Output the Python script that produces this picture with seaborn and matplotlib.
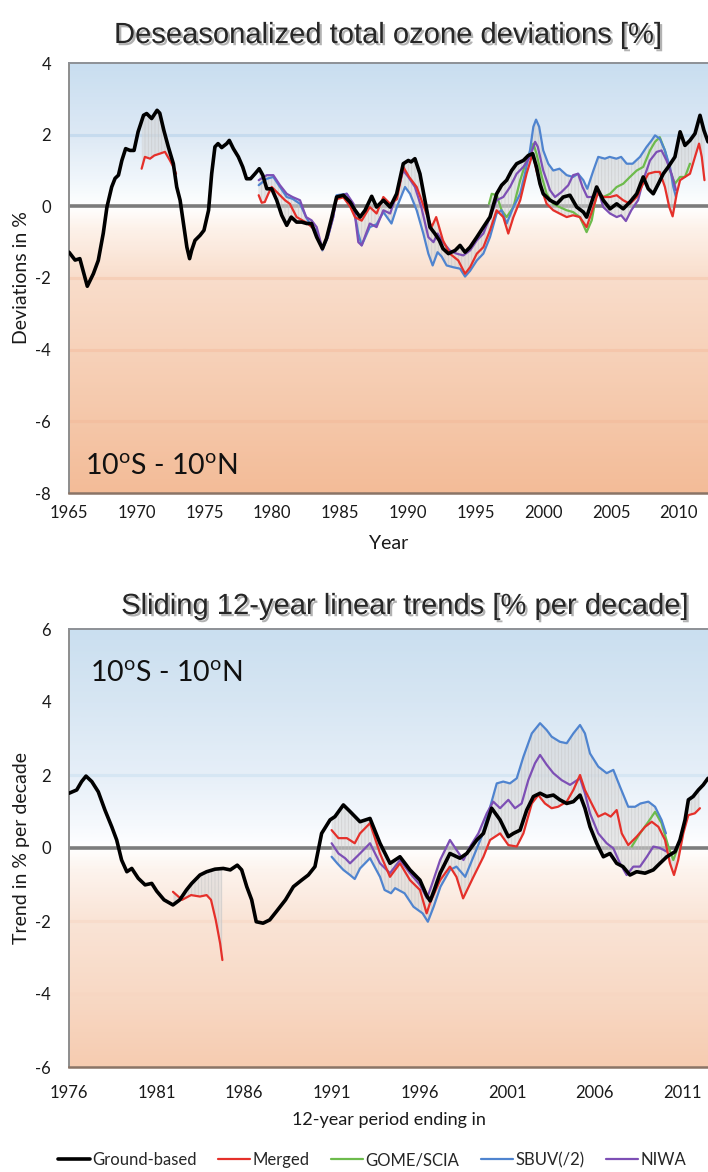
import numpy as np
import pandas as pd
import matplotlib
matplotlib.use("Agg")
import matplotlib.pyplot as plt
import seaborn as sns
from matplotlib.colors import LinearSegmentedColormap
from matplotlib.lines import Line2D
import matplotlib.patheffects as pe

# ---------------- DATA ----------------
series_names = ["Ground-based", "Merged", "GOME/SCIA", "SBUV(/2)", "NIWA"]
series_colors = ["#000000", "#e5302a", "#6dbb4c", "#4f84cf", "#7d4fb5"]

# Top panel: deseasonalized total ozone deviations [%]
gb_top_x = [1965.0, 1965.45, 1965.8, 1966.35, 1966.8, 1967.16, 1967.53, 1967.8, 1968.15, 1968.4, 1968.65, 1968.9,
            1969.18, 1969.5, 1969.8, 1970.1, 1970.5, 1970.73, 1971.1, 1971.5, 1971.7, 1972.0, 1972.33, 1972.7,
            1972.95, 1973.2, 1973.45, 1973.7, 1973.9, 1974.05, 1974.3, 1974.67, 1974.96, 1975.3, 1975.53, 1975.77,
            1976.0, 1976.27, 1976.64, 1976.83, 1977.13, 1977.5, 1977.82, 1978.1, 1978.4, 1978.73, 1979.04, 1979.3,
            1979.6, 1979.96, 1980.33, 1980.7, 1981.07, 1981.4, 1981.8, 1982.17, 1982.55, 1982.9, 1983.28, 1983.7,
            1984.0, 1984.4, 1984.75, 1985.25, 1985.74, 1986.1, 1986.48, 1986.85, 1987.34, 1987.7, 1988.2, 1988.7,
            1989.18, 1989.67, 1990.04, 1990.25, 1990.53, 1990.9, 1991.27, 1991.64, 1992.0, 1992.33, 1992.6, 1993.0,
            1993.5, 1993.86, 1994.23, 1994.6, 1995.1, 1995.58, 1996.07, 1996.56, 1996.93, 1997.3, 1997.67, 1998.04,
            1998.53, 1998.9, 1999.22, 1999.5, 1999.76, 2000.0, 2000.5, 2001.0, 2001.48, 2001.97, 2002.47, 2002.96,
            2003.2, 2003.45, 2003.94, 2004.43, 2004.93, 2005.42, 2005.9, 2006.4, 2006.9, 2007.38, 2007.75, 2008.12,
            2008.5, 2008.86, 2009.23, 2009.72, 2010.1, 2010.46, 2010.83, 2011.2, 2011.57, 2011.86, 2012.16]
gb_top_y = [-1.28, -1.5, -1.46, -2.23, -1.88, -1.51, -0.75, -0.02, 0.54, 0.78, 0.87, 1.28,
            1.61, 1.56, 1.56, 2.08, 2.54, 2.59, 2.45, 2.68, 2.6, 2.12, 1.66, 1.19,
            0.54, 0.17, -0.48, -1.14, -1.46, -1.23, -0.95, -0.81, -0.67, -0.11, 0.91, 1.66,
            1.75, 1.64, 1.75, 1.84, 1.61, 1.38, 1.1, 0.77, 0.77, 0.91, 1.05, 0.87,
            0.49, 0.49, 0.17, -0.25, -0.53, -0.3, -0.44, -0.44, -0.48, -0.48, -0.86, -1.18,
            -0.9, -0.3, 0.26, 0.31, 0.12, -0.1, -0.3, -0.11, 0.28, -0.02, 0.17, -0.02,
            0.35, 1.19, 1.28, 1.24, 1.33, 0.91, 0.17, -0.58, -0.76, -0.95, -1.18, -1.32,
            -1.23, -1.09, -1.28, -1.14, -0.86, -0.58, -0.3, 0.35, 0.59, 0.73, 1.0, 1.19,
            1.28, 1.42, 1.47, 1.1, 0.63, 0.35, 0.17, 0.07, 0.26, 0.31, -0.02, -0.16,
            -0.3, -0.02, 0.54, 0.17, -0.07, 0.07, -0.07, 0.12, 0.35, 0.82, 0.49, 0.35,
            0.63, 0.91, 1.1, 1.38, 2.08, 1.7, 1.84, 2.03, 2.54, 2.12, 1.8]

mg_top_early_x = [1970.36, 1970.6, 1970.98, 1971.3, 1971.7, 1972.08, 1972.45, 1972.7, 1972.9]
mg_top_early_y = [1.05, 1.38, 1.33, 1.42, 1.47, 1.52, 1.28, 1.1, 0.91]

mg_top_x = [1979.0, 1979.22, 1979.45, 1979.71, 1979.96, 1980.2, 1980.57, 1980.94, 1981.3, 1981.8, 1982.5, 1983.0,
            1983.7, 1984.0, 1984.4, 1984.75, 1985.25, 1985.74, 1986.1, 1986.6, 1987.2, 1987.7, 1988.2, 1988.7,
            1989.2, 1989.67, 1990.1, 1990.66, 1991.2, 1991.76, 1992.1, 1992.6, 1993.1, 1993.73, 1994.23, 1994.6,
            1995.1, 1995.58, 1996.07, 1996.56, 1997.05, 1997.42, 1997.8, 1998.3, 1998.77, 1999.22, 1999.5, 1999.9,
            2000.25, 2000.74, 2001.2, 2001.73, 2002.2, 2002.7, 2003.2, 2003.7, 2004.06, 2004.43, 2004.93, 2005.42,
            2005.9, 2006.4, 2006.9, 2007.25, 2007.75, 2008.25, 2008.6, 2008.98, 2009.3, 2009.55, 2009.85, 2010.1,
            2010.46, 2010.83, 2011.2, 2011.5, 2011.7, 2011.9]
mg_top_y = [0.31, 0.1, 0.12, 0.35, 0.54, 0.45, 0.31, 0.17, 0.07, -0.3, -0.45, -0.6,
            -1.2, -0.9, -0.35, 0.2, 0.25, 0.0, -0.3, -0.4, -0.02, -0.2, 0.26, 0.07,
            0.2, 1.1, 0.82, 0.54, -0.02, -0.58, -0.3, -0.95, -1.32, -1.51, -1.88, -1.7,
            -1.32, -1.14, -0.67, -0.11, -0.3, -0.76, -0.3, 0.17, 0.91, 1.47, 1.0, 0.45,
            0.07, -0.11, -0.2, -0.3, -0.25, -0.3, -0.58, -0.02, 0.4, 0.26, 0.26, 0.31,
            0.17, 0.07, 0.26, 0.54, 0.91, 0.96, 0.96, 0.54, -0.02, -0.28, 0.35, 0.73,
            0.82, 0.91, 1.38, 1.75, 1.38, 0.73]

sb_top_x = [1979.0, 1979.6, 1980.08, 1980.57, 1981.07, 1981.5, 1982.05, 1982.5, 1982.9, 1983.28, 1983.7, 1984.1,
            1984.5, 1984.75, 1985.5, 1986.0, 1986.35, 1986.6, 1987.2, 1987.7, 1988.2, 1988.8, 1989.2, 1989.8,
            1990.17, 1990.66, 1991.15, 1991.52, 1991.84, 1992.2, 1992.5, 1992.87, 1993.36, 1993.86, 1994.23, 1994.6,
            1995.1, 1995.58, 1996.07, 1996.56, 1996.93, 1997.3, 1997.8, 1998.3, 1998.65, 1999.02, 1999.27, 1999.47,
            1999.7, 2000.0, 2000.37, 2000.74, 2001.2, 2001.73, 2002.2, 2002.57, 2002.96, 2003.25, 2003.7, 2004.06,
            2004.55, 2004.9, 2005.4, 2005.75, 2006.16, 2006.6, 2007.14, 2007.63, 2008.0, 2008.25, 2008.6, 2008.98,
            2009.35, 2009.6, 2009.8]
sb_top_y = [0.59, 0.77, 0.82, 0.54, 0.26, 0.21, 0.07, -0.3, -0.58, -0.67, -1.23, -0.86,
            -0.3, 0.31, 0.35, -0.02, -0.76, -1.09, -0.58, -0.5, -0.16, -0.48, -0.02, 0.54,
            0.35, -0.11, -0.76, -1.32, -1.65, -1.28, -1.4, -1.65, -1.7, -1.74, -1.96, -1.8,
            -1.51, -1.32, -0.86, -0.2, -0.11, -0.48, -0.02, 0.35, 0.91, 1.56, 2.22, 2.42,
            2.22, 1.56, 1.19, 1.0, 1.05, 0.87, 0.82, 0.91, 0.73, 0.49, 1.0, 1.38,
            1.33, 1.38, 1.33, 1.38, 1.19, 1.19, 1.38, 1.66, 1.84, 1.98, 1.89, 1.56,
            1.1, 0.54, 0.26]

nw_top_x = [1979.0, 1979.6, 1980.08, 1980.57, 1981.07, 1981.5, 1982.05, 1982.5, 1982.9, 1983.28, 1983.7, 1984.1,
            1984.5, 1984.75, 1985.5, 1986.0, 1986.35, 1986.6, 1987.2, 1987.7, 1988.2, 1988.7, 1989.2, 1989.67,
            1990.04, 1990.53, 1991.0, 1991.52, 1991.9, 1992.2, 1992.6, 1993.1, 1993.6, 1994.1, 1994.6, 1995.1,
            1995.58, 1996.07, 1996.56, 1997.05, 1997.55, 1998.04, 1998.53, 1999.02, 1999.4, 1999.6, 2000.0, 2000.5,
            2000.87, 2001.35, 2001.85, 2002.2, 2002.57, 2002.9, 2003.25, 2003.7, 2004.06, 2004.43, 2004.93, 2005.42,
            2005.75, 2006.1, 2006.5, 2007.0, 2007.38, 2007.88, 2008.37, 2008.73, 2009.1, 2009.47, 2009.8]
nw_top_y = [0.73, 0.87, 0.87, 0.59, 0.35, 0.26, 0.17, -0.3, -0.39, -0.58, -1.18, -0.86,
            -0.3, 0.26, 0.35, 0.07, -1.0, -1.09, -0.48, -0.58, -0.11, -0.2, 0.35, 1.0,
            0.82, 0.54, -0.02, -0.86, -1.0, -0.76, -1.0, -1.23, -1.32, -1.37, -1.23, -0.95,
            -0.76, -0.3, 0.17, 0.26, 0.54, 0.91, 1.1, 1.38, 1.8, 1.66, 1.0, 0.45,
            0.26, 0.4, 0.59, 0.87, 0.91, 0.54, 0.26, 0.26, 0.45, -0.02, -0.2, -0.3,
            -0.25, -0.41, -0.11, 0.17, 0.73, 1.28, 1.52, 1.56, 1.28, 0.91, 0.45]

gs_top_x = [1996.0, 1996.2, 1996.56, 1996.93, 1997.3, 1997.8, 1998.3, 1998.77, 1999.27, 1999.5, 1999.9, 2000.25,
            2000.74, 2001.2, 2001.73, 2002.2, 2002.7, 2003.2, 2003.58, 2003.94, 2004.43, 2004.93, 2005.42, 2005.9,
            2006.4, 2006.9, 2007.38, 2007.88, 2008.25, 2008.6, 2008.98, 2009.35, 2009.72, 2010.1, 2010.46, 2010.83]
gs_top_y = [0.07, 0.35, 0.31, -0.11, -0.3, -0.02, 0.73, 1.28, 1.75, 1.47, 0.82, 0.35,
            0.07, -0.02, -0.11, -0.16, -0.3, -0.72, -0.39, 0.35, 0.26, 0.35, 0.54, 0.63,
            0.82, 1.0, 1.1, 1.56, 1.8, 1.93, 1.56, 1.0, 0.63, 0.82, 0.82, 1.19]

# Bottom panel: sliding 12-year linear trends [% per decade]
gb_bot_x = [1976.0, 1976.44, 1976.72, 1976.97, 1977.3, 1977.67, 1978.05, 1978.44, 1978.72, 1979.0, 1979.3, 1979.58,
            1979.95, 1980.34, 1980.72, 1981.0, 1981.42, 1981.93, 1982.32, 1982.7, 1983.0, 1983.47, 1983.85, 1984.33,
            1984.8, 1985.2, 1985.6, 1985.85, 1986.14, 1986.42, 1986.68, 1987.07, 1987.45, 1987.83, 1988.35, 1988.8,
            1989.27, 1989.65, 1990.03, 1990.41, 1990.89, 1991.17, 1991.65, 1992.03, 1992.6, 1993.17, 1993.74, 1994.31,
            1994.88, 1995.45, 1996.02, 1996.4, 1996.6, 1996.8, 1997.17, 1997.73, 1998.3, 1998.69, 1999.26, 1999.64,
            2000.11, 2000.59, 2001.06, 2001.35, 2001.73, 2002.11, 2002.49, 2002.87, 2003.25, 2003.63, 2004.0, 2004.39,
            2004.77, 2005.15, 2005.43, 2005.72, 2006.1, 2006.48, 2006.86, 2007.24, 2007.6, 2008.0, 2008.38, 2008.86,
            2009.33, 2009.71, 2010.1, 2010.57, 2010.85, 2011.14, 2011.33, 2011.6, 2011.9, 2012.18, 2012.45]
gb_bot_y = [1.5, 1.59, 1.82, 1.97, 1.82, 1.54, 1.04, 0.58, 0.22, -0.33, -0.65, -0.56,
            -0.83, -1.01, -0.97, -1.18, -1.42, -1.56, -1.42, -1.15, -0.97, -0.74, -0.65, -0.58,
            -0.56, -0.6, -0.47, -0.6, -1.06, -1.42, -2.02, -2.06, -1.97, -1.74, -1.42, -1.06,
            -0.88, -0.74, -0.51, 0.4, 0.77, 0.86, 1.18, 1.0, 0.72, 0.81, 0.13, -0.42,
            -0.24, -0.6, -0.88, -1.3, -1.45, -1.2, -0.69, -0.15, -0.28, -0.15, 0.22, 0.4,
            1.09, 0.77, 0.31, 0.4, 0.49, 1.04, 1.41, 1.5, 1.41, 1.45, 1.32, 1.22,
            1.27, 1.45, 1.09, 0.58, 0.13, -0.24, -0.15, -0.42, -0.51, -0.74, -0.65, -0.69,
            -0.6, -0.42, -0.24, -0.1, 0.22, 0.77, 1.32, 1.41, 1.59, 1.73, 1.91]

mg_bot_early_x = [1981.93, 1982.45, 1982.96, 1983.47, 1983.85, 1984.1, 1984.37, 1984.62, 1984.75]
mg_bot_early_y = [-1.2, -1.42, -1.29, -1.33, -1.29, -1.42, -1.97, -2.61, -3.07]

mg_bot_x = [1990.98, 1991.37, 1991.85, 1992.3, 1992.6, 1993.17, 1993.74, 1994.31, 1994.88, 1995.45, 1996.02, 1996.4,
            1996.6, 1997.17, 1997.73, 1998.1, 1998.48, 1999.07, 1999.64, 2000.02, 2000.59, 2001.06, 2001.54, 2001.92,
            2002.4, 2002.77, 2003.15, 2003.53, 2003.9, 2004.39, 2004.77, 2005.15, 2005.43, 2005.81, 2006.19, 2006.58,
            2006.9, 2007.24, 2007.53, 2007.9, 2008.38, 2008.86, 2009.24, 2009.62, 2010.0, 2010.28, 2010.51, 2010.75,
            2011.04, 2011.33, 2011.7, 2011.99]
mg_bot_y = [0.49, 0.27, 0.27, 0.13, 0.4, 0.68, -0.15, -0.79, -0.42, -0.88, -1.15, -1.79,
            -1.5, -0.88, -0.51, -0.79, -1.38, -0.79, -0.24, 0.22, 0.4, 0.08, 0.04, 0.4,
            1.22, 1.45, 1.22, 1.09, 1.13, 1.27, 1.59, 2.0, 1.59, 1.22, 0.86, 0.95,
            0.86, 1.04, 0.4, 0.08, 0.31, 0.58, 0.72, 0.58, 0.22, -0.42, -0.74, -0.33,
            0.4, 0.9, 0.95, 1.09]

sb_bot_x = [1990.98, 1991.3, 1991.65, 1992.03, 1992.3, 1992.6, 1993.17, 1993.74, 1994.0, 1994.37, 1994.6, 1995.14,
            1995.65, 1996.17, 1996.47, 1996.8, 1997.19, 1997.73, 1998.1, 1998.6, 1999.07, 1999.54, 1999.92, 2000.4,
            2000.77, 2001.15, 2001.54, 2001.92, 2002.4, 2002.87, 2003.25, 2003.53, 2004.0, 2004.39, 2004.77, 2005.15,
            2005.43, 2005.72, 2006.19, 2006.67, 2007.05, 2007.43, 2007.9, 2008.29, 2008.6, 2009.05, 2009.43, 2009.8,
            2010.05]
sb_bot_y = [-0.24, -0.42, -0.6, -0.74, -0.85, -0.56, -0.28, -0.79, -1.15, -1.24, -1.1, -1.24,
            -1.61, -1.79, -2.02, -1.61, -1.06, -0.6, -0.51, -0.79, -0.24, 0.31, 0.95, 1.77,
            1.82, 1.77, 1.91, 2.5, 3.14, 3.42, 3.23, 3.05, 2.91, 2.87, 3.14, 3.37,
            3.14, 2.59, 2.23, 2.05, 2.14, 1.68, 1.13, 1.13, 1.22, 1.27, 1.13, 0.77,
            0.4]

nw_bot_x = [1990.98, 1991.37, 1991.75, 1992.03, 1992.6, 1993.17, 1993.74, 1994.31, 1994.88, 1995.45, 1996.02, 1996.42,
            1996.7, 1997.17, 1997.73, 1998.1, 1998.5, 1998.88, 1999.35, 1999.83, 2000.2, 2000.59, 2001.06, 2001.44,
            2001.82, 2002.2, 2002.58, 2002.87, 2003.25, 2003.63, 2004.1, 2004.58, 2005.15, 2005.43, 2005.72, 2006.19,
            2006.67, 2007.05, 2007.43, 2007.81, 2008.19, 2008.57, 2008.96, 2009.33, 2009.71, 2010.1]
nw_bot_y = [0.13, -0.15, -0.28, -0.42, -0.15, 0.13, -0.42, -0.69, -0.33, -0.69, -1.01, -1.38,
            -1.0, -0.33, 0.22, -0.05, -0.33, 0.04, 0.4, 0.95, 1.27, 1.09, 1.32, 1.09,
            1.22, 1.86, 2.32, 2.55, 2.28, 2.05, 1.86, 1.73, 1.91, 1.5, 0.95, 0.4,
            0.13, -0.01, -0.42, -0.74, -0.51, -0.51, -0.24, 0.04, 0.0, -0.1]

gs_bot_x = [2008.1, 2008.57, 2009.05, 2009.43, 2009.8, 2010.19, 2010.47, 2010.75, 2011.04]
gs_bot_y = [0.04, 0.4, 0.72, 0.99, 0.68, 0.04, -0.33, 0.04, 0.58]

top_yticks = [4, 2, 0, -2, -4, -6, -8]
top_xticks = [1965, 1970, 1975, 1980, 1985, 1990, 1995, 2000, 2005, 2010]
bot_yticks = [6, 4, 2, 0, -2, -4, -6]
bot_xticks = [1976, 1981, 1986, 1991, 1996, 2001, 2006, 2011]

top_title = "Deseasonalized total ozone deviations [%]"
bot_title = "Sliding 12-year linear trends [% per decade]"
region_label = "10$^{\\mathrm{o}}$S - 10$^{\\mathrm{o}}$N"

# ---------------- STYLE ----------------
sns.set_style("white")
plt.rcParams["font.family"] = ["Lato", "DejaVu Sans"]
plt.rcParams["mathtext.fontset"] = "custom"
plt.rcParams["mathtext.rm"] = "Lato"
plt.rcParams["mathtext.it"] = "Lato:italic"
plt.rcParams["mathtext.bf"] = "Lato:bold"
plt.rcParams["hatch.linewidth"] = 0.6
plt.rcParams["hatch.color"] = "#c4c4c4"

W, H = 708, 1172
fig = plt.figure(figsize=(W / 100, H / 100), dpi=100)


def px_axes(left, top, right, bottom):
    return [left / W, 1 - bottom / H, (right - left) / W, (bottom - top) / H]


def background(ax, xlim, ylim, stops):
    vals = np.linspace(ylim[1], ylim[0], 400)
    pos = [(s - ylim[0]) / (ylim[1] - ylim[0]) for s, _ in stops]
    cmap = LinearSegmentedColormap.from_list("bg", list(zip(pos, [c for _, c in stops])))
    img = (vals[:, None] - ylim[0]) / (ylim[1] - ylim[0])
    ax.imshow(img, extent=[xlim[0], xlim[1], ylim[0], ylim[1]], aspect="auto",
              cmap=cmap, vmin=0, vmax=1, zorder=0, interpolation="bilinear")


def envelope(ax, sets, color="#d6d6d6"):
    lo = min(min(x) for x, _ in sets)
    hi = max(max(x) for x, _ in sets)
    grid = np.arange(lo, hi + 0.01, 0.02)
    stack = []
    for x, y in sets:
        x = np.asarray(x); y = np.asarray(y)
        v = np.interp(grid, x, y)
        v[(grid < x.min()) | (grid > x.max())] = np.nan
        stack.append(v)
    stack = np.vstack(stack)
    cnt = np.sum(~np.isnan(stack), axis=0)
    mn = np.min(np.where(np.isnan(stack), np.inf, stack), axis=0)
    mx = np.max(np.where(np.isnan(stack), -np.inf, stack), axis=0)
    ok = cnt >= 2
    mn = np.where(ok, mn, np.nan)
    mx = np.where(ok, mx, np.nan)
    ax.fill_between(grid, mn, mx, where=ok, facecolor=color, alpha=0.55, lw=0,
                    hatch="|||||", edgecolor="#c2c2c2", zorder=2)


def draw_lines(ax, groups):
    for (x, y), col, lw, z in groups:
        df = pd.DataFrame({"x": x, "y": y})
        sns.lineplot(data=df, x="x", y="y", ax=ax, color=col, lw=lw, estimator=None,
                     sort=False, zorder=z, solid_joinstyle="round", solid_capstyle="round")


def style_axes(ax, xlim, ylim, xticks, yticks, xpad, grid_vals, grid_cols):
    for gv, gc in zip(grid_vals, grid_cols):
        ax.axhline(gv, color=gc, lw=2.2, zorder=1)
    ax.axhline(0, color="#7c7c7c", lw=2.6, zorder=1.5)
    ax.set_xticks(xticks)
    ax.set_xticklabels([str(v) for v in xticks])
    ax.set_yticks(yticks)
    ax.set_yticklabels([str(v) for v in yticks])
    ax.set_xlim(*xlim)
    ax.set_ylim(*ylim)
    ax.tick_params(axis="x", direction="in", length=5, width=1.2, color="#6e6e6e",
                   labelsize=12, pad=xpad, labelcolor="#1a1a1a")
    ax.tick_params(axis="y", length=0, labelsize=12, pad=13, labelcolor="#1a1a1a")
    ax.spines["right"].set_visible(False)
    ax.spines["top"].set_color("#8d9096")
    ax.spines["top"].set_linewidth(1.4)
    ax.spines["left"].set_color("#8d8d8d")
    ax.spines["left"].set_linewidth(1.4)
    ax.spines["bottom"].set_color("#8a7466")
    ax.spines["bottom"].set_linewidth(1.8)
    ax.grid(False)


shadow = [pe.SimplePatchShadow(offset=(1.6, -1.6), shadow_rgbFace="#555555", alpha=0.45), pe.Normal()]

# ---------- top panel ----------
ax1 = fig.add_axes(px_axes(69, 63, 708, 493))
xl1, yl1 = (1965, 2012.16), (-8, 4)
background(ax1, xl1, yl1, [(-8, "#f3bc98"), (-6, "#f5c7a9"), (-4, "#f7d2ba"), (-2, "#f9ddcb"),
                           (-0.6, "#fdf2ea"), (0, "#ffffff"), (0.6, "#f3f8fc"), (2, "#dde9f5"),
                           (4, "#c9def0")])
envelope(ax1, [(gb_top_x, gb_top_y), (mg_top_early_x, mg_top_early_y)])
envelope(ax1, [(gb_top_x[46:], gb_top_y[46:]), (mg_top_x, mg_top_y), (sb_top_x, sb_top_y),
               (nw_top_x, nw_top_y), (gs_top_x, gs_top_y)])
draw_lines(ax1, [((gs_top_x, gs_top_y), series_colors[2], 1.6, 3),
                 ((sb_top_x, sb_top_y), series_colors[3], 1.6, 3.1),
                 ((nw_top_x, nw_top_y), series_colors[4], 1.6, 3.2),
                 ((mg_top_x, mg_top_y), series_colors[1], 1.6, 3.3),
                 ((mg_top_early_x, mg_top_early_y), series_colors[1], 1.6, 3.3),
                 ((gb_top_x, gb_top_y), series_colors[0], 2.6, 4)])
style_axes(ax1, xl1, yl1, top_xticks, top_yticks, 9,
           [2, -2, -4, -6], ["#c6dbee", "#f6cfb8", "#f5c6ab", "#f3bfa0"])
ax1.set_xlabel("Year", fontsize=14, labelpad=10, color="#1a1a1a")
ax1.set_ylabel("Deviations in %", fontsize=14, labelpad=4, color="#1a1a1a")
ax1.text(1966.2, -7.25, region_label, fontsize=20.5, ha="left", va="center", color="#111111", zorder=6)
fig.text(388 / W, 1 - 35 / H, top_title, fontsize=21, family=["Liberation Sans", "DejaVu Sans"],
         ha="center", va="center", path_effects=shadow)

# ---------- bottom panel ----------
ax2 = fig.add_axes(px_axes(69, 629, 708, 1067))
xl2, yl2 = (1976, 2012.45), (-6, 6)
background(ax2, xl2, yl2, [(-6, "#f6ccb1"), (-4, "#f8d9c5"), (-2, "#fae4d6"), (-0.6, "#fdf4ee"),
                           (0, "#ffffff"), (0.6, "#f6f9fd"), (2, "#e6eff8"), (4, "#d7e6f3"),
                           (6, "#cadff0")])
envelope(ax2, [(gb_bot_x, gb_bot_y), (mg_bot_early_x, mg_bot_early_y)])
envelope(ax2, [(gb_bot_x[40:], gb_bot_y[40:]), (mg_bot_x, mg_bot_y), (sb_bot_x, sb_bot_y),
               (nw_bot_x, nw_bot_y), (gs_bot_x, gs_bot_y)])
draw_lines(ax2, [((gs_bot_x, gs_bot_y), series_colors[2], 1.6, 3),
                 ((sb_bot_x, sb_bot_y), series_colors[3], 1.6, 3.1),
                 ((nw_bot_x, nw_bot_y), series_colors[4], 1.6, 3.2),
                 ((mg_bot_x, mg_bot_y), series_colors[1], 1.6, 3.3),
                 ((mg_bot_early_x, mg_bot_early_y), series_colors[1], 1.6, 3.3),
                 ((gb_bot_x, gb_bot_y), series_colors[0], 2.6, 4)])
style_axes(ax2, xl2, yl2, bot_xticks, bot_yticks, 13,
           [2, -2, -4], ["#d6e6f3", "#f8dccb", "#f7d6c2"])
ax2.set_xlabel("12-year period ending in", fontsize=13, labelpad=8, color="#1a1a1a")
ax2.set_ylabel("Trend in % per decade", fontsize=14, labelpad=4, color="#1a1a1a")
ax2.text(1977.2, 4.8, region_label, fontsize=20.5, ha="left", va="center", color="#111111", zorder=6)
fig.text(405 / W, 1 - 606 / H, bot_title, fontsize=21, family=["Liberation Sans", "DejaVu Sans"],
         ha="center", va="center", path_effects=shadow)

# ---------- legend ----------
handles = [Line2D([0], [0], color=c, lw=(2.6 if i == 0 else 1.6)) for i, c in enumerate(series_colors)]
fig.legend(handles, series_names, loc="center", bbox_to_anchor=(372 / W, 1 - 1160 / H), ncol=5,
           frameon=False, fontsize=12, handlelength=1.9, handletextpad=0.15, columnspacing=1.3,
           borderaxespad=0)

fig.savefig("out.png", dpi=100)
